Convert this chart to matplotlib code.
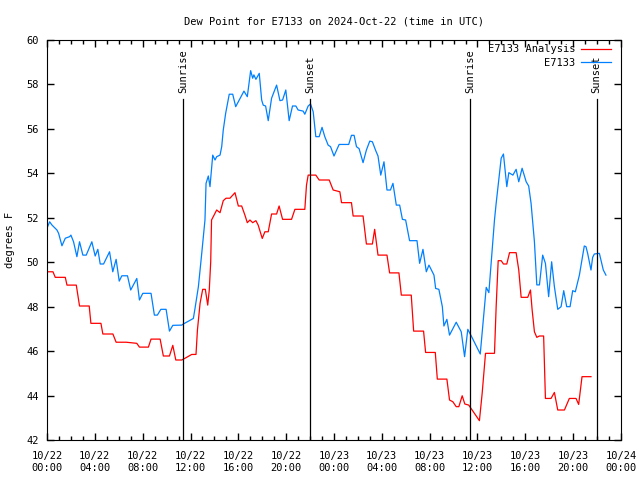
import numpy as np
import matplotlib
matplotlib.use("Agg")
from matplotlib import pyplot as plt
from matplotlib.ticker import MultipleLocator

# hours since 2024-10-22 00:00 UTC
anal_hours = [0, 0.5, 0.69, 1.53, 1.67, 2.45, 2.72, 3.53, 3.67, 4.51, 4.67, 5.51, 5.78, 6.62,
              7.51, 7.73, 8.48, 8.7, 9.46, 9.73, 10.24, 10.52, 10.77, 11.27, 11.68, 12.1, 12.46,
              12.58, 12.8, 13.02, 13.24, 13.44, 13.57, 13.69, 13.76, 14.19, 14.47, 14.74, 14.97,
              15.3, 15.72, 16.0, 16.28, 16.55, 16.75, 16.97, 17.2, 17.47, 17.66, 18.0, 18.22,
              18.5, 18.78, 19.2, 19.41, 19.7, 20.45, 20.73, 21.56, 21.7, 21.84, 22.48, 22.76,
              23.6, 23.93, 24.49, 24.63, 25.46, 25.6, 26.43, 26.57, 26.71, 27.21, 27.4, 27.68,
              28.43, 28.65, 29.43, 29.63, 30.46, 30.66, 31.49, 31.66, 32.47, 32.64, 33.44,
              33.66, 33.94, 34.22, 34.44, 34.72, 34.94, 35.27, 36.16, 36.39, 36.67, 37.42,
              37.56, 37.73, 37.98, 38.17, 38.45, 38.68, 39.23, 39.45, 39.65, 40.2, 40.43,
              40.57, 40.76, 40.96, 41.18, 41.53, 41.68, 42.15, 42.43, 42.71, 43.27, 43.68,
              44.24, 44.46, 44.74, 45.49]
anal_vals = [49.57, 49.57, 49.32, 49.32, 48.97, 48.97, 48.03, 48.03, 47.25, 47.25, 46.77, 46.77,
             46.4, 46.4, 46.35, 46.18, 46.18, 46.54, 46.54, 45.78, 45.78, 46.26, 45.6, 45.6,
             45.72, 45.85, 45.85, 46.95, 48.15, 48.78, 48.78, 48.07, 48.75, 50.02, 51.9, 52.35,
             52.23, 52.77, 52.88, 52.88, 53.13, 52.53, 52.53, 52.12, 51.78, 51.9, 51.78, 51.87,
             51.67, 51.07, 51.37, 51.37, 52.17, 52.17, 52.53, 51.93, 51.93, 52.38, 52.38, 53.47,
             53.92, 53.92, 53.7, 53.7, 53.25, 53.17, 52.68, 52.68, 52.08, 52.08, 51.45, 50.82,
             50.82, 51.48, 50.32, 50.32, 49.52, 49.52, 48.52, 48.52, 46.9, 46.9, 45.94, 45.94,
             44.74, 44.74, 43.8, 43.72, 43.5, 43.5, 43.99, 43.62, 43.57, 42.87, 44.1, 45.9, 45.9,
             48.0, 50.07, 50.07, 49.92, 49.92, 50.43, 50.43, 49.65, 48.42, 48.42, 48.75, 47.85,
             46.87, 46.62, 46.68, 46.68, 43.87, 43.87, 44.14, 43.35, 43.35, 43.87, 43.87, 43.6,
             44.85, 44.85]

obs_hours = [0, 0.22, 0.42, 0.83, 0.97, 1.25, 1.53, 1.89, 2.0, 2.22, 2.5, 2.72, 3.0, 3.28, 3.75,
             4.03, 4.25, 4.45, 4.73, 5.23, 5.5, 5.78, 6.04, 6.26, 6.73, 7.0, 7.51, 7.73, 8.01,
             8.7, 8.98, 9.23, 9.52, 9.96, 10.24, 10.52, 11.27, 11.4, 12.24, 12.38, 12.66, 12.94,
             13.21, 13.3, 13.49, 13.63, 13.86, 14.05, 14.19, 14.47, 14.61, 14.74, 14.94, 15.24,
             15.53, 15.78, 16.0, 16.47, 16.75, 17.03, 17.2, 17.3, 17.47, 17.75, 17.95, 18.08,
             18.28, 18.5, 18.78, 19.2, 19.48, 19.7, 19.97, 20.25, 20.53, 20.81, 21.0, 21.42,
             21.56, 21.84, 22.04, 22.26, 22.48, 22.76, 23.0, 23.23, 23.51, 23.71, 24.0, 24.43,
             25.23, 25.46, 25.68, 25.88, 26.1, 26.43, 26.71, 26.99, 27.21, 27.49, 27.68, 27.91,
             28.18, 28.43, 28.72, 28.93, 29.21, 29.49, 29.72, 29.99, 30.32, 30.94, 31.16, 31.44,
             31.72, 31.94, 32.36, 32.5, 32.77, 33.06, 33.19, 33.44, 33.66, 34.22, 34.64, 34.92,
             35.19, 35.48, 36.23, 36.45, 36.73, 36.95, 37.15, 37.42, 37.56, 37.78, 37.98, 38.17,
             38.45, 38.62, 38.96, 39.23, 39.45, 39.73, 40.07, 40.28, 40.48, 40.76, 40.96, 41.18,
             41.45, 41.68, 41.95, 42.2, 42.43, 42.71, 42.99, 43.21, 43.46, 43.74, 43.96, 44.18,
             44.52, 44.93, 45.07, 45.21, 45.49, 45.63, 45.77, 46.19, 46.52, 46.74]
obs_vals = [51.53, 51.82, 51.67, 51.45, 51.3, 50.74, 51.08, 51.15, 51.22, 50.92, 50.25, 50.92,
            50.32, 50.32, 50.92, 50.28, 50.58, 49.92, 49.92, 50.47, 49.57, 50.13, 49.15, 49.39,
            49.39, 48.75, 49.27, 48.3, 48.6, 48.6, 47.62, 47.62, 47.88, 47.88, 46.9, 47.16,
            47.17, 47.22, 47.47, 47.93, 48.9, 50.4, 51.9, 53.55, 53.88, 53.4, 54.82, 54.6, 54.75,
            54.82, 55.2, 55.95, 56.7, 57.56, 57.56, 57.0, 57.22, 57.7, 57.45, 58.62, 58.28, 58.43,
            58.23, 58.5, 57.3, 57.07, 57.03, 56.37, 57.38, 57.97, 57.27, 57.3, 57.75, 56.37,
            57.03, 57.03, 56.85, 56.8, 56.66, 57.03, 57.12, 56.77, 55.65, 55.65, 56.07, 55.65,
            55.27, 55.2, 54.78, 55.3, 55.3, 55.71, 55.71, 55.2, 55.11, 54.48, 55.05, 55.45, 55.42,
            55.02, 54.78, 53.92, 54.52, 53.25, 53.25, 53.55, 52.57, 52.57, 51.93, 51.9, 50.97,
            50.97, 49.95, 50.58, 49.57, 49.87, 49.42, 48.82, 48.78, 48.0, 47.13, 47.43, 46.72,
            47.3, 46.87, 45.75, 46.98, 46.68, 45.87, 47.17, 48.87, 48.63, 50.02, 51.9, 52.65,
            53.7, 54.68, 54.87, 53.4, 54.03, 53.92, 54.18, 53.62, 54.23, 53.62, 53.43, 52.65,
            50.92, 48.98, 48.98, 50.32, 49.95, 48.45, 50.02, 48.9, 47.88, 48.0, 48.72, 48.0,
            48.0, 48.72, 48.67, 49.42, 50.73, 50.7, 50.4, 49.65, 50.22, 50.37, 50.4, 49.65, 49.42]

sun_hours = [11.38, 22.0, 35.37, 45.97]
sun_labels = ["Sunrise", "Sunset", "Sunrise", "Sunset"]

tick_hours = list(range(0, 49, 4))
tick_labels = ["10/22\n00:00", "10/22\n04:00", "10/22\n08:00", "10/22\n12:00", "10/22\n16:00",
               "10/22\n20:00", "10/23\n00:00", "10/23\n04:00", "10/23\n08:00", "10/23\n12:00",
               "10/23\n16:00", "10/23\n20:00", "10/24\n00:00"]

plt.rcParams['font.family'] = 'DejaVu Sans Mono'
plt.rcParams['font.size'] = 7.5

fig = plt.figure(figsize=(6.4, 4.8), dpi=100)
ax = fig.add_axes([47 / 640, 40 / 480, 574 / 640, 400 / 480])

ax.plot(anal_hours, anal_vals, color='#ff0000', lw=0.9, label='E7133 Analysis')
ax.plot(obs_hours, obs_vals, color='#0080ff', lw=0.9, label='E7133')

for h, lab in zip(sun_hours, sun_labels):
    ax.plot([h, h], [42, 57.35], color='k', lw=0.9)
    ax.text(h, 57.6, lab, rotation=90, ha='center', va='bottom', fontsize=7.5)

ax.set_xlim(0, 48)
ax.set_ylim(42, 60)
ax.set_xticks(tick_hours)
ax.set_xticklabels(tick_labels)
ax.xaxis.set_minor_locator(MultipleLocator(1))
ax.set_yticks(range(42, 61, 2))
ax.tick_params(direction='in', top=True, right=True, length=5, width=1, pad=6)
ax.tick_params(axis='x', pad=8)
ax.tick_params(which='minor', direction='in', top=True, length=3, width=1)
ax.set_ylabel('degrees F', labelpad=8)
ax.set_title('Dew Point for E7133 on 2024-Oct-22 (time in UTC)', fontsize=7.5, pad=11)

leg = ax.legend(loc='upper right', bbox_to_anchor=(1.0, 1.015), frameon=False,
                markerfirst=False, handlelength=2.8, borderaxespad=0.6,
                labelspacing=0.3, handletextpad=0.6)

fig.savefig('out.png', dpi=100)
